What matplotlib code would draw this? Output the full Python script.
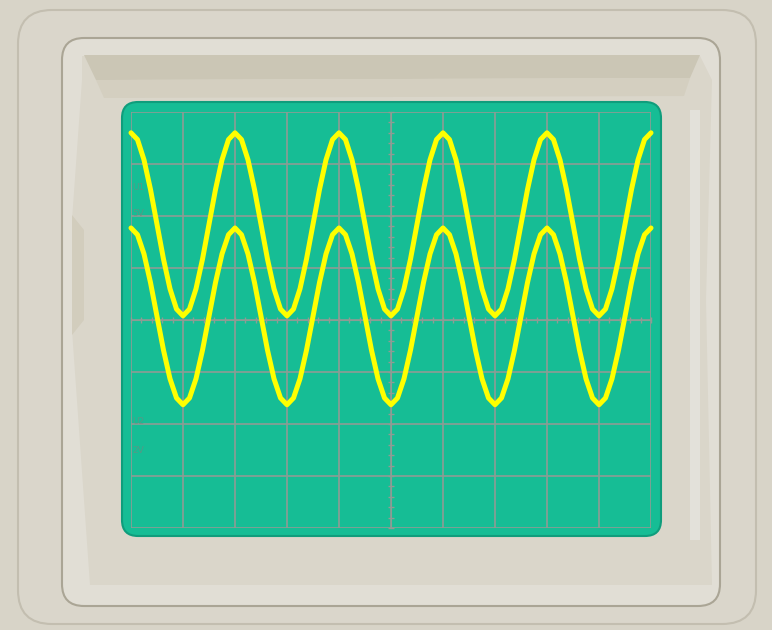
import numpy as np
import matplotlib
matplotlib.use('Agg')
import matplotlib.pyplot as plt
from matplotlib.patches import FancyBboxPatch, Polygon

# Oscilloscoop: twee kanale, waardes in skermverdelings (af uit die prent gelees)
# monsters elke 1/8 verdeling, van -5 tot 5
tyd_div = np.arange(-40, 41) / 8.0

kanaal_1 = [
    3.60, 3.47, 3.08, 2.51, 1.84, 1.17, 0.60, 0.21, 0.08, 0.21, 0.60, 1.17, 1.84, 2.51, 3.08, 3.47,
    3.60, 3.47, 3.08, 2.51, 1.84, 1.17, 0.60, 0.21, 0.08, 0.21, 0.60, 1.17, 1.84, 2.51, 3.08, 3.47,
    3.60, 3.47, 3.08, 2.51, 1.84, 1.17, 0.60, 0.21, 0.08, 0.21, 0.60, 1.17, 1.84, 2.51, 3.08, 3.47,
    3.60, 3.47, 3.08, 2.51, 1.84, 1.17, 0.60, 0.21, 0.08, 0.21, 0.60, 1.17, 1.84, 2.51, 3.08, 3.47,
    3.60, 3.47, 3.08, 2.51, 1.84, 1.17, 0.60, 0.21, 0.08, 0.21, 0.60, 1.17, 1.84, 2.51, 3.08, 3.47,
    3.60,
]
kanaal_2 = [
    1.77, 1.64, 1.27, 0.72, 0.07, -0.58, -1.13, -1.50, -1.63, -1.50, -1.13, -0.58, 0.07, 0.72, 1.27, 1.64,
    1.77, 1.64, 1.27, 0.72, 0.07, -0.58, -1.13, -1.50, -1.63, -1.50, -1.13, -0.58, 0.07, 0.72, 1.27, 1.64,
    1.77, 1.64, 1.27, 0.72, 0.07, -0.58, -1.13, -1.50, -1.63, -1.50, -1.13, -0.58, 0.07, 0.72, 1.27, 1.64,
    1.77, 1.64, 1.27, 0.72, 0.07, -0.58, -1.13, -1.50, -1.63, -1.50, -1.13, -0.58, 0.07, 0.72, 1.27, 1.64,
    1.77, 1.64, 1.27, 0.72, 0.07, -0.58, -1.13, -1.50, -1.63, -1.50, -1.13, -0.58, 0.07, 0.72, 1.27, 1.64,
    1.77,
]

# kanaal-etikette (vaag op die skerm)
etikette = ['U1', '5V', 'U2', '2V']
etiket_y = [2.55, 2.05, -1.95, -2.5]

W, H = 772, 630
fig = plt.figure(figsize=(W / 100, H / 100), dpi=100, facecolor='#d8d4c8')

# 1. Die kas (pixel-koordinate)
bg = fig.add_axes([0, 0, 1, 1])
bg.set_xlim(0, W)
bg.set_ylim(H, 0)
bg.axis('off')

bg.add_patch(FancyBboxPatch((18, 10), 738, 614, boxstyle='round,pad=0,rounding_size=34',
                            fc='#dad6cb', ec='#c3beb0', lw=1.5))
bg.add_patch(FancyBboxPatch((62, 38), 658, 568, boxstyle='round,pad=0,rounding_size=22',
                            fc='#e1ded5', ec='#aaa595', lw=1.5))
# ingesonke deel
bg.add_patch(Polygon([(82, 56), (700, 56), (712, 80), (706, 300), (712, 585), (90, 585),
                      (72, 330), (72, 220), (82, 80)], closed=True, fc='#dad6ca', ec='none'))
bg.add_patch(Polygon([(84, 55), (700, 55), (690, 78), (96, 80)], closed=True, fc='#cbc6b5', ec='none'))
bg.add_patch(Polygon([(96, 80), (690, 78), (684, 96), (104, 98)], closed=True, fc='#d4cfc0', ec='none'))
bg.add_patch(Polygon([(72, 215), (84, 230), (84, 320), (72, 335)], closed=True, fc='#d2cdbd', ec='none'))
bg.add_patch(Polygon([(690, 110), (700, 110), (700, 540), (690, 540)], closed=True, fc='#e3e1da', ec='none'))

# skerm
bg.add_patch(FancyBboxPatch((122, 102), 539, 434, boxstyle='round,pad=0,rounding_size=16',
                            fc='#16bd95', ec='#0f9d7c', lw=1.5))

# 2. Die skerm-as: 10 x 8 verdelings
ax = fig.add_axes([131 / W, (H - 528) / H, 520 / W, 416 / H])
ax.set_xlim(-5, 5)
ax.set_ylim(-4, 4)
ax.patch.set_alpha(0)

for x in range(-5, 6):
    ax.axvline(x, color='#8e9c94', lw=1.2, zorder=1)
for y in range(-4, 5):
    ax.axhline(y, color='#8e9c94', lw=1.2, zorder=1)

# middellyne met klein merkies
for s in ['top', 'right']:
    ax.spines[s].set_visible(False)
ax.spines['left'].set_position(('data', 0))
ax.spines['bottom'].set_position(('data', 0))
ax.spines['left'].set_color('#8e9c94')
ax.spines['bottom'].set_color('#8e9c94')
ax.set_xticks(np.arange(-5, 5.01, 0.2))
ax.set_yticks(np.arange(-4, 4.01, 0.2))
ax.tick_params(direction='inout', length=4, width=1.0, color='#8e9c94',
               labelbottom=False, labelleft=False)

for kanaal in [kanaal_1, kanaal_2]:
    ax.plot(tyd_div, kanaal, color='#ffff00', lw=3.6, solid_capstyle='round',
            solid_joinstyle='round', zorder=5, clip_on=False)

for t, yy in zip(etikette, etiket_y):
    ax.text(-4.97, yy, t, fontsize=6.5, color='#6f8a80', alpha=0.7, ha='left', va='center')

fig.savefig('out.png', dpi=100, facecolor=fig.get_facecolor())
